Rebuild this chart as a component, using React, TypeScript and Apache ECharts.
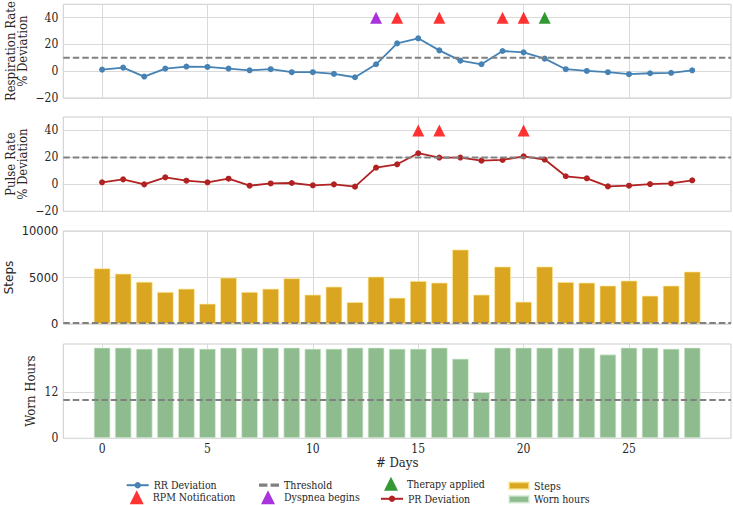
import React, { useEffect, useRef } from 'react';
import * as echarts from 'echarts';

// ---------- data ----------
const days = [0, 1, 2, 3, 4, 5, 6, 7, 8, 9, 10, 11, 12, 13, 14, 15, 16, 17, 18, 19, 20, 21, 22, 23, 24, 25, 26, 27, 28];
const rrDeviation = [1.2, 2.7, -4.0, 2.0, 3.5, 3.2, 2.0, 0.7, 1.5, -0.7, -0.7, -2.0, -4.5, 5.2, 20.8, 24.6, 15.6, 7.9, 5.2, 15.1, 14.1, 9.4, 1.5, 0.2, -0.7, -2.2, -1.5, -1.2, 0.7];
const prDeviation = [1.5, 3.7, 0, 5.2, 2.7, 1.5, 4.2, -1, 0.7, 1, -0.7, 0, -1.7, 12.4, 14.9, 23.1, 19.9, 19.9, 17.6, 18.1, 20.8, 18.4, 6, 4.5, -1.5, -1, 0.2, 0.7, 3];
const steps = [6000, 5430, 4550, 3460, 3810, 2200, 5000, 3460, 3810, 4930, 3170, 4030, 2370, 5110, 2840, 4640, 4460, 8020, 3170, 6190, 2410, 6190, 4530, 4460, 4140, 4680, 3060, 4140, 5650];
const wornHours = [23.7, 23.7, 23.4, 23.7, 23.7, 23.4, 23.7, 23.7, 23.7, 23.7, 23.4, 23.4, 23.7, 23.7, 23.4, 23.4, 23.7, 20.8, 12.1, 23.7, 23.7, 23.7, 23.7, 23.7, 21.9, 23.7, 23.7, 23.4, 23.7];
const rpmRRDays = [14, 16, 19, 20];
const dyspneaDays = [13];
const therapyDays = [21];
const rpmPRDays = [15, 16, 20];
const markerLevel = 40;
const thresholds = [10, 20, 100, 10];
const xTicks = [0, 5, 10, 15, 20, 25];
const devTicks = [-20, 0, 20, 40];
const stepTicks = [0, 5000, 10000];
const wornTicks = [0, 12];
const X_MIN = -1.84;
const X_MAX = 29.84;

// ---------- styles ----------
const SERIF = "'DejaVu Serif Condensed', 'DejaVu Serif', serif";
const SANS = "'DejaVu Sans', sans-serif";
const TXT = '#262626';
const GRIDC = '#dadada';
const BORDER = '#cccccc';
const C_RR = '#4682b4';
const C_PR = '#b22222';
const C_RED = '#ff0000';
const C_PURPLE = '#9400d3';
const C_GREEN = '#008000';
const C_STEPS = '#daa520';
const C_WORN = '#8fbc8f';
const C_THR = '#808080';

const TRI_ICON = 'path://M0,14L22,14L22,14ZM11,0L18,14L4,14Z';
const DASH_ICON = 'path://M0,0h8v3h-8zM11,0h8v3h-8z';

const minus = (v: number) => String(v).replace('-', '\u2212');

const gridBoxes = [
  { top: 4.3, height: 93.7 },
  { top: 117, height: 94.3 },
  { top: 231, height: 93 },
  { top: 344, height: 94.3 },
];

function buildOption() {
  const grid = gridBoxes.map((g) => ({
    left: 63.3,
    width: 667.7,
    top: g.top,
    height: g.height,
    show: true,
    borderColor: BORDER,
    borderWidth: 1,
    backgroundColor: '#fff',
    containLabel: false,
    outerBoundsMode: 'none',
  }));

  const xAxis = gridBoxes.map((_, i) => ({
    type: 'value',
    gridIndex: i,
    min: X_MIN,
    max: X_MAX,
    axisLine: { show: false },
    axisTick: { show: false, customValues: xTicks },
    axisLabel: {
      show: i === 3,
      customValues: xTicks,
      color: TXT,
      fontFamily: SERIF,
      fontSize: 12,
      margin: 5,
    },
    splitLine: { show: true, lineStyle: { color: GRIDC, width: 1 } },
    name: i === 3 ? '# Days' : '',
    nameLocation: 'middle',
    nameGap: 18,
    nameMoveOverlap: false,
    nameTextStyle: { color: TXT, fontFamily: SERIF, fontSize: 13 },
  }));

  const yDefs = [
    { min: -20, max: 50, ticks: devTicks, name: 'Respiration Rate\n% Deviation', gap: 35, font: SERIF, fs: 12, nfs: 13 },
    { min: -20, max: 50, ticks: devTicks, name: 'Pulse Rate\n% Deviation', gap: 35, font: SERIF, fs: 12, nfs: 13 },
    { min: 0, max: 10000, ticks: stepTicks, name: 'Steps', gap: 48, font: SANS, fs: 11.5, nfs: 12 },
    { min: 0, max: 24.6, ticks: wornTicks, name: 'Worn Hours', gap: 27, font: SERIF, fs: 12, nfs: 13 },
  ];
  const yAxis = yDefs.map((d, i) => ({
    type: 'value',
    gridIndex: i,
    min: d.min,
    max: d.max,
    axisLine: { show: false },
    axisTick: { show: false, customValues: d.ticks },
    axisLabel: {
      customValues: d.ticks,
      formatter: (v: number) => minus(v),
      color: TXT,
      fontFamily: d.font,
      fontSize: d.fs,
      margin: 5,
    },
    splitLine: { show: true, lineStyle: { color: GRIDC, width: 1 } },
    name: d.name,
    nameLocation: 'middle',
    nameRotate: 90,
    nameGap: d.gap,
    nameMoveOverlap: false,
    nameTextStyle: { color: TXT, fontFamily: d.font, fontSize: d.nfs, lineHeight: 12 },
  }));

  const tri = (name: string, color: string, list: number[], gi: number) => ({
    type: 'scatter',
    name,
    xAxisIndex: gi,
    yAxisIndex: gi,
    symbol: 'triangle',
    symbolSize: 12,
    itemStyle: { color },
    data: list.map((d) => [d, markerLevel]),
    z: 4,
  });

  const series: any[] = [
    {
      type: 'line',
      name: 'RR Deviation',
      xAxisIndex: 0,
      yAxisIndex: 0,
      data: days.map((d, i) => [d, rrDeviation[i]]),
      symbol: 'circle',
      symbolSize: 6,
      showSymbol: true,
      lineStyle: { color: C_RR, width: 1.8 },
      itemStyle: { color: C_RR },
      z: 3,
    },
    tri('Dyspnea begins', C_PURPLE, dyspneaDays, 0),
    tri('RPM Notification', C_RED, rpmRRDays, 0),
    tri('Therapy applied', C_GREEN, therapyDays, 0),
    {
      type: 'line',
      name: 'PR Deviation',
      xAxisIndex: 1,
      yAxisIndex: 1,
      data: days.map((d, i) => [d, prDeviation[i]]),
      symbol: 'circle',
      symbolSize: 6,
      showSymbol: true,
      lineStyle: { color: C_PR, width: 1.8 },
      itemStyle: { color: C_PR },
      z: 3,
    },
    tri('RPM Notification', C_RED, rpmPRDays, 1),
    {
      type: 'bar',
      name: 'Steps',
      xAxisIndex: 2,
      yAxisIndex: 2,
      barWidth: 16.9,
      data: days.map((d, i) => [d, steps[i]]),
      itemStyle: { color: C_STEPS, borderColor: 'rgba(255,235,160,0.7)', borderWidth: 1 },
      z: 2,
    },
    {
      type: 'bar',
      name: 'Worn hours',
      xAxisIndex: 3,
      yAxisIndex: 3,
      barWidth: 16.9,
      data: days.map((d, i) => [d, wornHours[i]]),
      itemStyle: { color: C_WORN, borderColor: 'rgba(220,240,220,0.7)', borderWidth: 1 },
      z: 2,
    },
    ...thresholds.map((t, i) => ({
      type: 'line',
      name: 'Threshold',
      xAxisIndex: i,
      yAxisIndex: i,
      data: [
        [X_MIN, t],
        [X_MAX, t],
      ],
      symbol: 'none',
      lineStyle: { color: C_THR, width: 2, type: [6.5, 3] },
      itemStyle: { color: C_THR },
      z: 6,
    })),
  ];

  const legendText = { color: TXT, fontFamily: SERIF, fontSize: 10.5 };
  const row1 = 483.7;
  const row2 = 497.3;
  const col = [152.7, 284, 407, 533];
  const leg = (name: string, c: number, rowY: number, w: number, h: number, icon?: string) => ({
    show: true,
    selectedMode: false,
    orient: 'horizontal',
    left: col[c] - 5 - w,
    top: rowY - h / 2,
    padding: 0,
    itemWidth: w,
    itemHeight: h,
    textStyle: legendText,
    data: [icon ? { name, icon } : { name }],
  });
  const legend = [
    leg('RR Deviation', 0, row1, 22, 8),
    leg('RPM Notification', 0, row2, 22, 14, TRI_ICON),
    leg('Threshold', 1, row1, 20, 8, DASH_ICON),
    leg('Dyspnea begins', 1, row2, 22, 14, TRI_ICON),
    leg('Therapy applied', 2, row1, 22, 14, TRI_ICON),
    leg('PR Deviation', 2, row2, 22, 8),
    leg('Steps', 3, row1, 20, 7, 'rect'),
    leg('Worn hours', 3, row2, 20, 7, 'rect'),
  ];

  return {
    animation: false,
    backgroundColor: '#ffffff',
    tooltip: { show: false },
    grid,
    xAxis,
    yAxis,
    legend,
    series,
  };
}

export default function App() {
  const ref = useRef<HTMLDivElement>(null);
  useEffect(() => {
    document.body.style.margin = '0';
    if (!ref.current) return;
    const chart = echarts.init(ref.current, undefined, { renderer: 'svg' });
    chart.setOption(buildOption() as any);
    return () => {
      chart.dispose();
    };
  }, []);
  return <div ref={ref} style={{ width: 733, height: 505 }} />;
}
